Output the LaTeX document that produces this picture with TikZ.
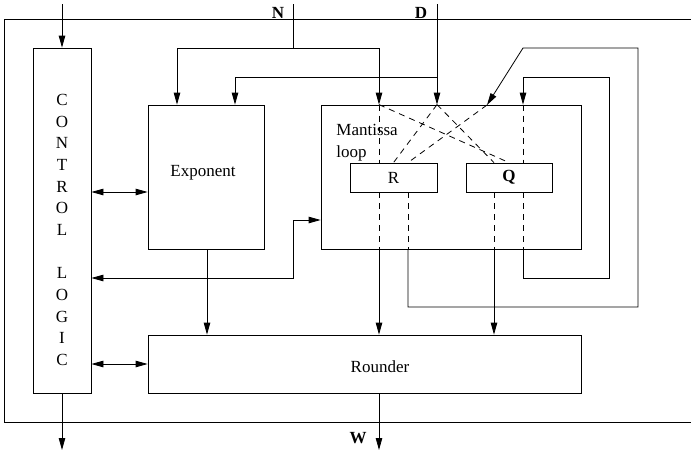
\documentclass[tikz,border=0pt]{standalone}
\usepackage{fontspec}
\setmainfont{Liberation Serif}
\usetikzlibrary{arrows.meta}
\begin{document}
\begin{tikzpicture}[x=1pt,y=-1pt,
  line width=0.8pt,
  arr/.style={-{Triangle[length=12pt,width=6.5pt]}},
  darr/.style={{Triangle[length=12pt,width=6.5pt]}-{Triangle[length=12pt,width=6.5pt]}},
  box/.style={draw, rectangle, inner sep=0pt},
  lbl/.style={font=\fontsize{17}{22}\selectfont, inner sep=0pt},
  blbl/.style={font=\fontsize{17}{22}\selectfont\bfseries, inner sep=0pt},
  dsh/.style={dash pattern=on 6pt off 5pt},
]
\useasboundingbox (0,0) rectangle (691,453);

% outer frame
\coordinate (fr1) at (691,19);
\coordinate (fr2) at (4,19);
\coordinate (fr3) at (4,422);
\coordinate (fr4) at (691,422);
\draw (fr1) -- (fr2) -- (fr3) -- (fr4);

% blocks
\node[box, minimum width=58pt, minimum height=345pt] (ctrl) at (62,220.5) {};
\node[lbl, align=center, font=\fontsize{17}{21.67}\selectfont] (ctrltxt) at (62,230)
  {C\\O\\N\\T\\R\\O\\L\\~\\L\\O\\G\\I\\C};
\node[box, minimum width=116pt, minimum height=144pt] (exp) at (206,177) {};
\node[lbl] (exptxt) at (203,173) {Exponent};
\node[box, minimum width=260pt, minimum height=144pt] (mant) at (451,177) {};
\node[lbl, align=left, anchor=north west] (manttxt) at (336,124) {Mantissa\\loop};
\node[box, minimum width=87pt, minimum height=29pt, lbl] (R) at (393.5,177.5) {R};
\node[box, minimum width=86pt, minimum height=29pt, blbl] (Q) at (509,177.5) {Q};
\node[box, minimum width=433pt, minimum height=58pt] (rnd) at (364.5,364) {};
\node[lbl] (rndtxt) at (380,367) {Rounder};

% io labels
\node[blbl] (Nl) at (278,13) {N};
\node[blbl] (Dl) at (421,13) {D};
\node[blbl] (Wl) at (358,438) {W};

% coordinates
\coordinate (Cin) at (62,4);
\coordinate (Cout) at (62,450);
\coordinate (Nin) at (293,4);
\coordinate (Din) at (437,4);
\coordinate (Wout) at (379,450);
\coordinate (n1) at (177,48);
\coordinate (n2) at (379,48);
\coordinate (d1) at (235,77);
\coordinate (q1) at (523,278);
\coordinate (q2) at (609,77);
\coordinate (r1) at (408,307);
\coordinate (r2) at (638,48);
\coordinate (r3) at (523,48);
\coordinate (r4) at (487,105);
\coordinate (qo) at (494,335);
\coordinate (e1) at (207,0);
\coordinate (c1) at (0,192);
\coordinate (c2) at (0,364);
\coordinate (m1) at (293,278);
\coordinate (m2) at (293,220);

% control io
\draw[arr] (Cin) -- (ctrl.north);
\draw[arr] (ctrl.south) -- (Cout);

% N input
\draw[arr] (Nin) |- (n1) -- (n1 |- exp.north);
\draw[arr] (Nin |- n2) -- (n2) -- (n2 |- mant.north);

% D input
\draw[arr] (Din) -- (Din |- mant.north);
\draw[arr] (Din |- d1) -- (d1) -- (d1 |- exp.north);

% Q loop
\draw[dsh] (q1 |- Q.south) -- (q1 |- mant.south);
\draw[arr] (q1 |- mant.south) -- (q1) -| (q2) -- (q2 -| q1) -- (q1 |- mant.north);
\draw[dsh] (q1 |- mant.north) -- (q1 |- Q.north);

% R loop
\draw[dsh] (r1 |- R.south) -- (r1 |- mant.south);
\draw[arr] (r1 |- mant.south) -- (r1) -| (r2) -- (r3) -- (r4);
\draw[dsh] (r4) -- (r1 |- R.north);

% crossing dashed lines
\draw[dsh] (n2 |- mant.north) -- (n2 |- R.north);
\draw[dsh] (n2 |- mant.north) -- (Q.north);
\draw[dsh] (Din |- mant.north) -- (R.north);
\draw[dsh] (Din |- mant.north) -- (qo |- Q.north);

% outputs to rounder
\draw[dsh] (n2 |- R.south) -- (n2 |- mant.south);
\draw[arr] (n2 |- mant.south) -- (n2 |- rnd.north);
\draw[dsh] (qo |- Q.south) -- (qo |- mant.south);
\draw[arr] (qo |- mant.south) -- (qo |- rnd.north);
\draw[arr] (e1 |- exp.south) -- (e1 |- rnd.north);
\draw[arr] (n2 |- rnd.south) -- (Wout);

% control links
\draw[darr] (ctrl.east |- c1) -- (exp.west |- c1);
\draw[darr] (ctrl.east |- c2) -- (rnd.west |- c2);
\draw[darr] (ctrl.east |- m1) -- (m1) -- (m2) -- (mant.west |- m2);
\end{tikzpicture}
\end{document}
